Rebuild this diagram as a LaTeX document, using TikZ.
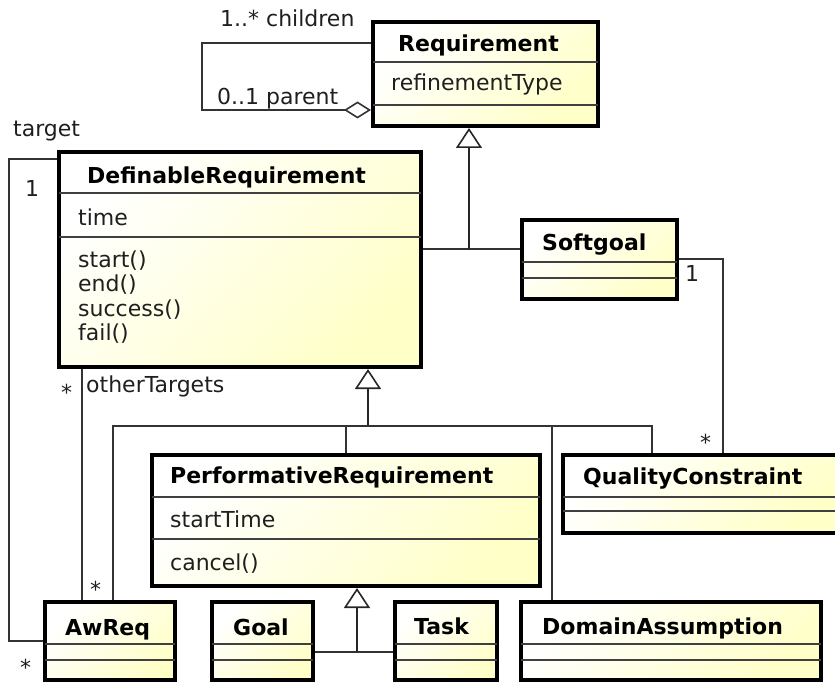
\documentclass[tikz,border=0pt]{standalone}
\usepackage{fontspec}
\setmainfont{DejaVu Sans}
\usetikzlibrary{arrows.meta}
\definecolor{umlyel}{RGB}{255,255,200}
\tikzset{
  cls/.style={draw, line width=4pt, top color=white, bottom color=umlyel, shading angle=45, inner sep=0pt},
  sepl/.style={line width=1.6pt, draw=black!75, shorten <=2pt, shorten >=2pt},
  rel/.style={line width=1.6pt, draw=black!80},
  inh/.style={line width=2.2pt, draw=black!85, -{Triangle[open, length=20pt, width=26pt, line width=1.6pt]}},
  agg/.style={rel, {Diamond[open, length=27pt, width=17pt, line width=1.6pt]}-},
  txt/.style={anchor=base west, inner sep=0pt, text=black!88, font=\fontsize{22}{26}\selectfont},
  ttl/.style={txt, text=black, font=\fontsize{22}{26}\selectfont\bfseries},
}
\begin{document}
\begin{tikzpicture}[x=1pt, y=-1pt]
\useasboundingbox (0,0) rectangle (835,682);

% class boxes
\node[cls, minimum width=225pt, minimum height=104pt] (req) at (485.5,74) {};
\node[cls, minimum width=362pt, minimum height=215pt] (defreq) at (240,259.5) {};
\node[cls, minimum width=155pt, minimum height=79pt] (soft) at (599.5,259.5) {};
\node[cls, minimum width=388pt, minimum height=131pt] (perf) at (346,520.5) {};
\node[cls, minimum width=276pt, minimum height=78pt] (qual) at (701,494) {};
\node[cls, minimum width=130pt, minimum height=78pt] (awreq) at (110,641) {};
\node[cls, minimum width=101pt, minimum height=78pt] (goal) at (262.5,641) {};
\node[cls, minimum width=102pt, minimum height=78pt] (task) at (446,641) {};
\node[cls, minimum width=300pt, minimum height=78pt] (dom) at (671,641) {};

% compartments
\draw[sepl] (req.west |- 0,62) -- (req.east |- 0,62);
\draw[sepl] (req.west |- 0,105) -- (req.east |- 0,105);
\draw[sepl] (defreq.west |- 0,193) -- (defreq.east |- 0,193);
\draw[sepl] (defreq.west |- 0,237) -- (defreq.east |- 0,237);
\draw[sepl] (soft.west |- 0,262) -- (soft.east |- 0,262);
\draw[sepl] (soft.west |- 0,278) -- (soft.east |- 0,278);
\draw[sepl] (perf.west |- 0,497) -- (perf.east |- 0,497);
\draw[sepl] (perf.west |- 0,539) -- (perf.east |- 0,539);
\draw[sepl] (qual.west |- 0,497) -- (qual.east |- 0,497);
\draw[sepl] (qual.west |- 0,511) -- (qual.east |- 0,511);
\draw[sepl] (awreq.west |- 0,644) -- (awreq.east |- 0,644);
\draw[sepl] (awreq.west |- 0,660) -- (awreq.east |- 0,660);
\draw[sepl] (goal.west |- 0,644) -- (goal.east |- 0,644);
\draw[sepl] (goal.west |- 0,660) -- (goal.east |- 0,660);
\draw[sepl] (task.west |- 0,644) -- (task.east |- 0,644);
\draw[sepl] (task.west |- 0,660) -- (task.east |- 0,660);
\draw[sepl] (dom.west |- 0,644) -- (dom.east |- 0,644);
\draw[sepl] (dom.west |- 0,660) -- (dom.east |- 0,660);

% texts
\node[ttl] (reqT) at (398,52) {Requirement};
\node[txt] (reqA) at (391,91) {refinementType};
\node[ttl] (defT) at (87,183) {DefinableRequirement};
\node[txt] (defA) at (78,225) {time};
\node[txt] (defM1) at (78,267) {start()};
\node[txt] (defM2) at (78,291.5) {end()};
\node[txt] (defM3) at (78,316) {success()};
\node[txt] (defM4) at (78,340.5) {fail()};
\node[ttl] (softT) at (542,250) {Softgoal};
\node[ttl] (perfT) at (170,483) {PerformativeRequirement};
\node[txt] (perfA) at (170,527) {startTime};
\node[txt] (perfM) at (170,570) {cancel()};
\node[ttl] (qualT) at (583,484) {QualityConstraint};
\node[ttl] (awreqT) at (65,635) {AwReq};
\node[ttl] (goalT) at (233,635) {Goal};
\node[ttl] (taskT) at (414,634) {Task};
\node[ttl] (domT) at (542,634) {DomainAssumption};

% children / parent
\coordinate (selfL) at (202,43);
\draw[agg] (req.west |- 0,110) -| (selfL) -- (req.west |- selfL);
\node[txt] (chl) at (220,27) {1..* children};
\node[txt] (prl) at (217,105) {0..1 parent};

% generalizations
\coordinate (jr) at (469,249);
\draw[rel] (defreq.east |- jr) -- (soft.west |- jr);
\draw[inh] (jr) -- (jr |- req.south);

\coordinate (bus) at (368,426);
\coordinate (bL) at (113,426);
\coordinate (bD) at (552,426);
\coordinate (bR) at (652,426);
\draw[inh] (bus) -- (bus |- defreq.south);
\draw[rel] (bL |- awreq.north) -- (bL) -- (bR) -- (bR |- qual.north);
\draw[rel] (perf.north |- bus) -- (perf.north);
\draw[rel] (bD) -- (bD |- dom.north);

\coordinate (gt) at (357,652);
\draw[rel] (goal.east |- gt) -- (task.west |- gt);
\draw[inh] (gt) -- (gt |- perf.south);

% associations
\coordinate (tg) at (9,159);
\draw[rel] (defreq.west |- tg) -- (tg) |- (awreq.west);
\node[txt] (tgl) at (13,137) {target};
\node[txt] (tg1) at (25,196) {1};
\node[txt] (tgs) at (20,675) {*};

\coordinate (ot) at (82,400);
\draw[rel] (ot |- defreq.south) -- (ot |- awreq.north);
\node[txt] (ots) at (61,400) {*};
\node[txt] (otl) at (86,392) {otherTargets};
\node[txt] (aws) at (90,597) {*};

\coordinate (sq) at (723,259);
\draw[rel] (soft.east |- sq) -| (sq |- qual.north);
\node[txt] (sq1) at (685,281) {1};
\node[txt] (sqs) at (700,450) {*};
\end{tikzpicture}
\end{document}
